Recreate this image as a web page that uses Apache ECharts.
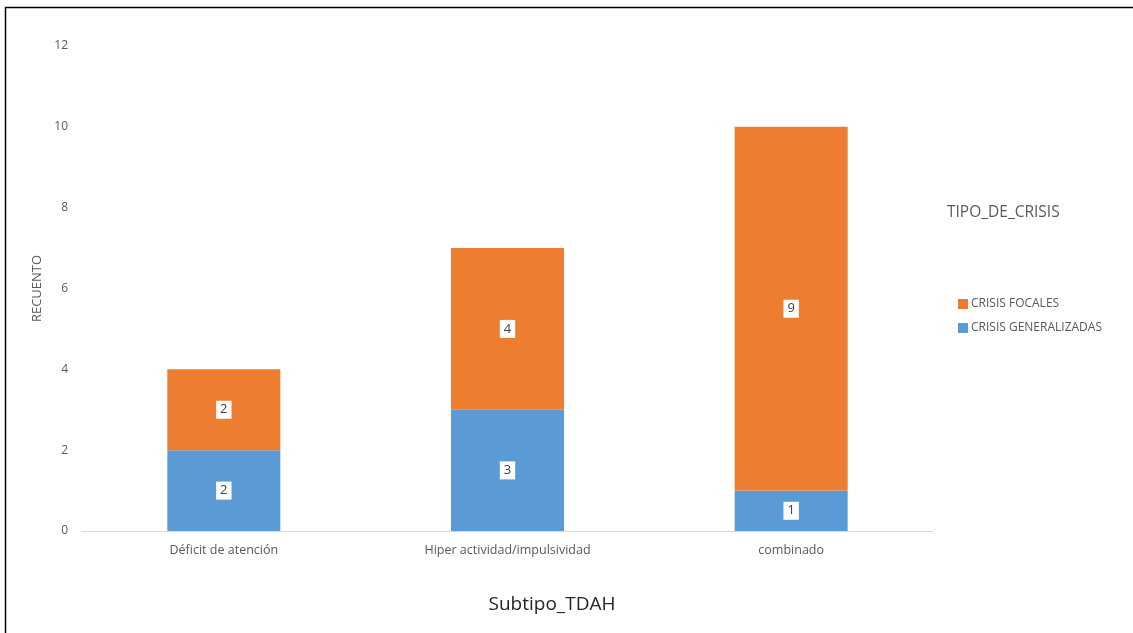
<!DOCTYPE html>
<html>
<head>
<meta charset="utf-8">
<script src="https://cdn.jsdelivr.net/npm/echarts@6/dist/echarts.min.js"></script>
<style>
html,body{margin:0;padding:0;background:#fff;}
#c{width:1133px;height:633px;}
</style>
</head>
<body>
<div id="c"></div>
<script>
const categories = ['Déficit de atención', 'Hiper actividad/impulsividad', 'combinado'];
const generalizadas = [2, 3, 1];
const focales = [2, 4, 9];
const yTicks = [0, 2, 4, 6, 8, 10, 12];

const chart = echarts.init(document.getElementById('c'), null, {renderer: 'canvas'});
const FONT = 'Open Sans';
const labelStyle = {
  show: true,
  position: 'inside',
  backgroundColor: '#fff',
  color: '#404040',
  fontSize: 13,
  fontFamily: FONT,
  padding: [3, 4, 2, 4]
};
chart.setOption({
  animation: false,
  textStyle: {fontFamily: FONT},
  title: {
    text: 'Subtipo_TDAH',
    left: 547,
    top: 590,
    textAlign: 'center',
    textStyle: {fontSize: 19, fontWeight: 'normal', color: '#262626', fontFamily: FONT}
  },
  legend: [{
    orient: 'vertical',
    left: 953,
    top: 293,
    itemWidth: 10,
    itemHeight: 10,
    itemGap: 12,
    icon: 'rect',
    data: ['CRISIS FOCALES', 'CRISIS GENERALIZADAS'],
    textStyle: {fontSize: 12, color: '#595959', fontFamily: FONT, padding: [0, 0, 0, -2]}
  }],
  grid: {left: 82, right: 200, top: 46, bottom: 102, containLabel: false},
  xAxis: {
    type: 'category',
    data: categories,
    axisLine: {lineStyle: {color: '#D9D9D9'}},
    axisTick: {show: false},
    axisLabel: {color: '#595959', fontSize: 12.5, margin: 13, fontFamily: FONT}
  },
  yAxis: {
    type: 'value',
    min: yTicks[0],
    max: yTicks[yTicks.length - 1],
    interval: 2,
    name: 'RECUENTO',
    nameLocation: 'middle',
    nameGap: 38,
    nameTextStyle: {color: '#595959', fontSize: 13, fontFamily: FONT},
    axisLine: {show: false},
    axisTick: {show: false},
    splitLine: {show: false},
    axisLabel: {color: '#595959', fontSize: 12, margin: 14, fontFamily: FONT}
  },
  graphic: [
    {type: 'line', shape: {x1: 5, y1: 7.5, x2: 1133, y2: 7.5}, style: {stroke: '#000', lineWidth: 1.5}},
    {type: 'line', shape: {x1: 5.5, y1: 7, x2: 5.5, y2: 633}, style: {stroke: '#000', lineWidth: 1.5}},
    {type: 'text', left: 947, top: 205, style: {text: 'TIPO_DE_CRISIS', fontSize: 15.5, fill: '#595959', fontFamily: FONT}}
  ],
  series: [
    {
      name: 'CRISIS GENERALIZADAS',
      type: 'bar',
      stack: 'total',
      barWidth: 113,
      data: generalizadas,
      itemStyle: {color: '#5B9BD5'},
      label: labelStyle
    },
    {
      name: 'CRISIS FOCALES',
      type: 'bar',
      stack: 'total',
      barWidth: 113,
      data: focales,
      itemStyle: {color: '#ED7D31'},
      label: labelStyle
    }
  ]
});
</script>
</body>
</html>
